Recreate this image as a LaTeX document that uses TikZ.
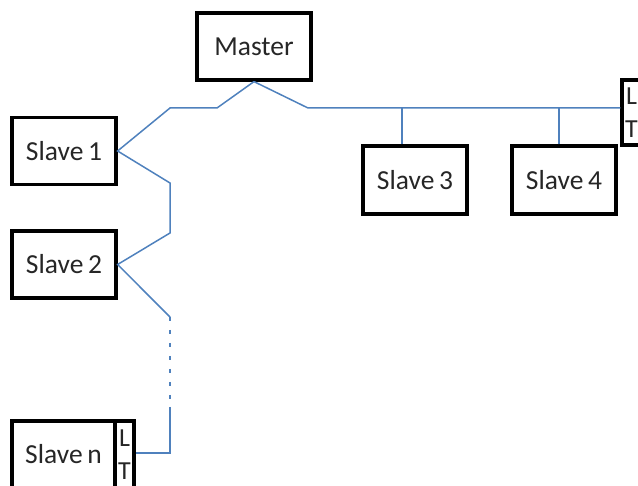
\documentclass[tikz,border=0pt]{standalone}
\usepackage{fontspec}
\setmainfont{Carlito}
\definecolor{busblue}{RGB}{79,129,189}
\tikzset{
  box/.style={draw,line width=3.2pt,minimum width=104pt,minimum height=67pt,inner sep=0pt,text=black!85,font=\fontsize{27.5}{30}\selectfont},
  term/.style={draw,line width=3.2pt,minimum width=19pt,minimum height=66pt,inner sep=0pt,align=center,text=black!85,font=\fontsize{26}{33}\selectfont},
  bus/.style={busblue,line width=1.5pt}
}
\begin{document}
\begin{tikzpicture}[x=1pt,y=-1pt]
\useasboundingbox (0,0) rectangle (638,486);
\node[box,minimum width=114pt] (master) at (254,46.5) {Master};
\node[box] (s1) at (64,151) {Slave\,1};
\node[box] (s2) at (64,264.5) {Slave\,2};
\node[box,minimum height=68pt] (s3) at (415,180) {Slave\,3};
\node[box,minimum height=68pt] (s4) at (564,180) {Slave\,4};
\node[box,minimum width=103pt] (sn) at (63.5,454.5) {Slave\,n};
\node[term,minimum height=67pt] (tn) at (124.5,454.5) {L\\T};
\node[term,minimum height=65pt] (tr) at (631.5,112.5) {L\\T};

\coordinate (a1) at (217,108);
\coordinate (a2) at (170,108);
\coordinate (b1) at (170,183);
\coordinate (b2) at (170,233);
\coordinate (c1) at (170,317);
\coordinate (c2) at (170,407);
\coordinate (c3) at (170,453);
\coordinate (r1) at (308,108);
\coordinate (d3) at ([xshift=-13pt]s3.north);
\coordinate (d4) at ([xshift=-5pt]s4.north);

\draw[bus] (master.south) -- (a1) -- (a2) -- (s1.east) -- (b1) -- (b2) -- (s2.east) -- (c1);
\draw[bus,dash pattern=on 4pt off 9pt] (c1) -- (c2);
\draw[bus] (c2) -- (c3) -- (tn.east |- c3);
\draw[bus] (master.south) -- (r1) -- (tr.west |- r1);
\draw[bus] (d3) -- (d3 |- r1);
\draw[bus] (d4) -- (d4 |- r1);

\end{tikzpicture}
\end{document}
